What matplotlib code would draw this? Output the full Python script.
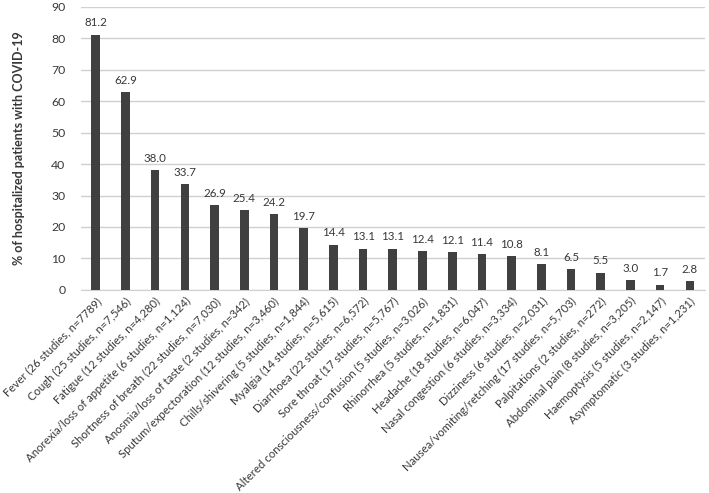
import matplotlib
matplotlib.use("Agg")
import matplotlib.pyplot as plt

categories = [
    "Fever (26 studies, n=7789)",
    "Cough (25 studies, n=7,546)",
    "Fatigue (12 studies, n=4,280)",
    "Anorexia/loss of appetite (6 studies, n=1,124)",
    "Shortness of breath (22 studies, n=7,030)",
    "Anosmia/loss of taste (2 studies, n=342)",
    "Sputum/expectoration (12 studies, n=3,460)",
    "Chills/shivering (5 studies, n=1,844)",
    "Myalgia (14 studies, n=5,615)",
    "Diarrhoea (22 studies, n=6,572)",
    "Sore throat (17 studies, n=5,767)",
    "Altered consciousness/confusion (5 studies, n=3,026)",
    "Rhinorrhea (5 studies, n=1,831)",
    "Headache (18 studies, n=6,047)",
    "Nasal congestion (6 studies, n=3,334)",
    "Dizziness (6 studies, n=2,031)",
    "Nausea/vomiting/retching (17 studies, n=5,703)",
    "Palpitations (2 studies, n=272)",
    "Abdominal pain (8 studies, n=3,205)",
    "Haemoptysis (5 studies, n=2,147)",
    "Asymptomatic (3 studies, n=1,231)",
]
values = [81.2, 62.9, 38.0, 33.7, 26.9, 25.4, 24.2, 19.7, 14.4, 13.1, 13.1,
          12.4, 12.1, 11.4, 10.8, 8.1, 6.5, 5.5, 3.0, 1.7, 2.8]
yticks = [0, 10, 20, 30, 40, 50, 60, 70, 80, 90]

plt.rcParams['font.family'] = ['Lato', 'DejaVu Sans']
txt = "#383838"

fig = plt.figure(figsize=(7.09, 4.93), dpi=100)
ax = fig.add_axes([0.114, 0.412, 0.880, 0.574])

x = list(range(len(categories)))
ax.bar(x, values, width=0.29, color="#404040", zorder=3)
for xi, v in zip(x, values):
    ax.text(xi, v + 2.0, f"{v:.1f}", ha="center", va="bottom", fontsize=8.3, color=txt)

ax.set_xlim(-0.5, len(categories) - 0.5)
ax.set_ylim(0, 90)
ax.set_yticks(yticks)
ax.set_yticklabels([str(t) for t in yticks], fontsize=8.8, color=txt)
ax.set_xticks(x)
ax.set_xticklabels(categories, rotation=45, ha="right", rotation_mode="anchor",
                   fontsize=8.2, color=txt)
ax.tick_params(axis="both", length=0)
ax.tick_params(axis="y", pad=11)
ax.tick_params(axis="x", pad=4)
ax.grid(axis="y", color="#d0d0d0", linewidth=1, zorder=0)
for s in ["top", "right", "left"]:
    ax.spines[s].set_visible(False)
ax.spines["bottom"].set_color("#d0d0d0")
ax.set_ylabel("% of hospitalized patients with COVID-19", fontsize=9,
              fontweight="bold", color=txt, labelpad=19)

fig.savefig("out.png", dpi=100)
